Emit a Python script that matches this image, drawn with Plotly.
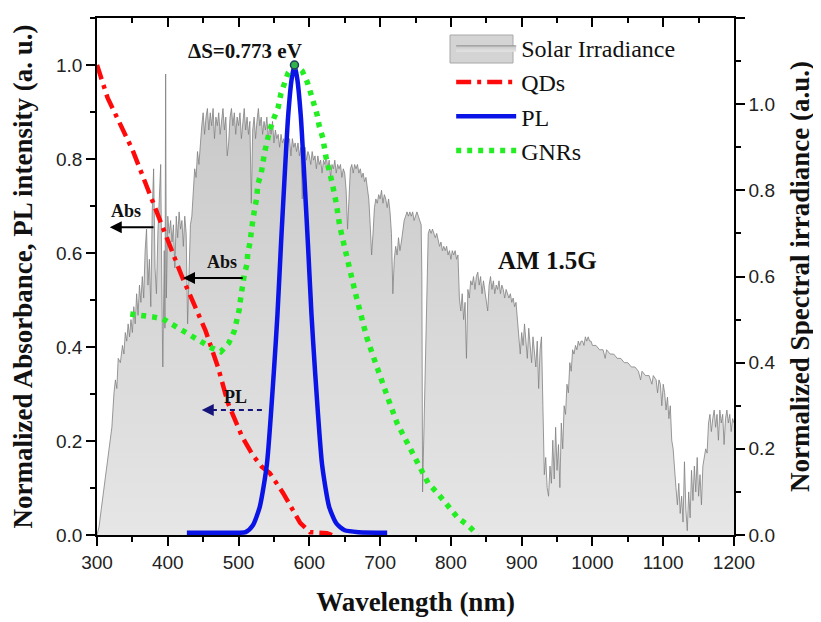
import numpy as np
import plotly.graph_objects as go

# ---------------- data ----------------
SOLAR_WL = [300, 303, 306, 310, 314, 318, 321, 324, 326, 328, 330, 333, 336, 338, 340, 342, 344, 346, 348, 350,
            352, 354, 356, 358, 360, 362, 364, 366, 368, 370, 372, 374, 376, 378, 380, 382, 384, 386, 388, 390,
            392, 393, 395, 396, 397, 398, 400, 402, 404, 406, 408, 410, 412, 414, 416, 418, 420, 422, 424, 426,
            428, 430, 432, 434, 436, 438, 440, 442, 444, 446, 448, 450, 452, 454, 456, 458, 460, 462, 464, 466,
            468, 470, 472, 474, 476, 478, 480, 482, 484, 486, 488, 490, 492, 494, 496, 498, 500, 502, 504, 506,
            508, 510, 512, 514, 516, 518, 520, 522, 524, 526, 528, 530, 532, 534, 536, 538, 540, 542, 544, 546,
            548, 550, 552, 554, 556, 558, 560, 562, 564, 566, 568, 570, 572, 574, 576, 578, 580, 582, 584, 586,
            588, 590, 592, 594, 596, 598, 600, 602, 604, 606, 608, 610, 612, 614, 616, 618, 620, 622, 624, 626,
            628, 630, 632, 634, 636, 638, 640, 642, 644, 646, 648, 650, 652, 654, 656, 658, 660, 662, 664, 666,
            668, 670, 672, 674, 676, 678, 680, 682, 684, 686, 688, 690, 692, 694, 696, 698, 700, 702, 704, 706,
            708, 710, 712, 714, 716, 718, 720, 722, 724, 726, 728, 730, 732, 734, 736, 738, 740, 742, 744, 746,
            748, 750, 752, 754, 756, 758, 759, 760, 762, 764, 766, 768, 770, 772, 774, 776, 778, 780, 782, 784,
            786, 788, 790, 792, 794, 796, 798, 800, 802, 804, 806, 808, 810, 812, 814, 816, 818, 820, 822, 824,
            826, 828, 830, 832, 834, 836, 838, 840, 842, 844, 846, 848, 850, 852, 854, 856, 858, 860, 862, 864,
            866, 868, 870, 872, 874, 876, 878, 880, 882, 884, 886, 888, 890, 892, 894, 896, 898, 900, 902, 904,
            906, 908, 910, 912, 914, 916, 918, 920, 922, 924, 926, 928, 930, 932, 934, 936, 938, 940, 942, 944,
            946, 948, 950, 952, 954, 956, 958, 960, 962, 964, 966, 968, 970, 972, 974, 976, 978, 980, 982, 984,
            986, 988, 990, 992, 994, 996, 998, 1000, 1005, 1010, 1015, 1018, 1020, 1025, 1030, 1035, 1040, 1045,
            1050, 1055, 1060, 1065, 1068, 1070, 1075, 1080, 1084, 1086, 1090, 1092, 1094, 1096, 1098, 1100, 1102,
            1104, 1106, 1108, 1110, 1112, 1114, 1116, 1118, 1120, 1122, 1124, 1126, 1128, 1130, 1132, 1134, 1136,
            1138, 1140, 1142, 1144, 1146, 1148, 1150, 1152, 1154, 1156, 1158, 1160, 1162, 1164, 1166, 1168, 1170,
            1172, 1174, 1176, 1178, 1180, 1182, 1184, 1186, 1188, 1190, 1192, 1194, 1196, 1198, 1200]
SOLAR_IRR = [0.0, 0.02, 0.06, 0.11, 0.17, 0.21, 0.25, 0.33, 0.36, 0.34, 0.41, 0.40, 0.44, 0.42, 0.47, 0.45, 0.49, 0.46, 0.50, 0.47,
             0.53, 0.49, 0.56, 0.51, 0.58, 0.54, 0.60, 0.55, 0.66, 0.71, 0.58, 0.64, 0.53, 0.75, 0.85, 0.62, 0.56, 0.70, 0.80, 0.86,
             0.52, 0.39, 0.66, 0.48, 1.07, 0.55, 0.74, 0.70, 0.73, 0.68, 0.72, 0.62, 0.74, 0.69, 0.75, 0.71, 0.73, 0.67, 0.74, 0.70,
             0.49, 0.60, 0.72, 0.74, 0.80, 0.85, 0.83, 0.89, 0.86, 0.92, 0.95, 0.98, 0.93, 0.97, 0.99, 0.94, 0.98, 0.95, 0.99, 0.92,
             0.97, 0.95, 0.98, 0.93, 0.96, 0.99, 0.94, 0.97, 0.88, 0.91, 0.97, 0.99, 0.95, 0.98, 0.93, 0.97, 0.95, 0.98, 0.92, 0.96,
             0.99, 0.94, 0.97, 0.93, 0.96, 0.77, 0.94, 0.97, 0.92, 0.96, 0.99, 0.95, 0.97, 0.93, 0.96, 0.94, 0.97, 0.92, 0.95, 0.93,
             0.96, 0.91, 0.94, 0.92, 0.93, 0.90, 0.93, 0.91, 0.92, 0.89, 0.93, 0.91, 0.92, 0.88, 0.92, 0.90, 0.91, 0.89, 0.91, 0.88,
             0.90, 0.78, 0.88, 0.90, 0.87, 0.89, 0.88, 0.86, 0.89, 0.87, 0.88, 0.85, 0.88, 0.86, 0.87, 0.84, 0.87, 0.86, 0.88, 0.85,
             0.87, 0.83, 0.86, 0.85, 0.87, 0.84, 0.86, 0.85, 0.86, 0.83, 0.85, 0.84, 0.80, 0.71, 0.78, 0.85, 0.86, 0.84, 0.86, 0.85,
             0.86, 0.84, 0.85, 0.83, 0.84, 0.82, 0.83, 0.80, 0.78, 0.72, 0.65, 0.70, 0.76, 0.78, 0.77, 0.79, 0.78, 0.80, 0.77, 0.79,
             0.78, 0.76, 0.78, 0.75, 0.70, 0.56, 0.64, 0.67, 0.65, 0.69, 0.66, 0.68, 0.71, 0.73, 0.74, 0.75, 0.74, 0.75, 0.74, 0.75,
             0.73, 0.74, 0.75, 0.74, 0.73, 0.72, 0.60, 0.10, 0.25, 0.40, 0.62, 0.70, 0.71, 0.70, 0.71, 0.70, 0.69, 0.70, 0.68, 0.67,
             0.68, 0.66, 0.67, 0.66, 0.67, 0.65, 0.66, 0.64, 0.66, 0.65, 0.66, 0.64, 0.65, 0.55, 0.52, 0.56, 0.50, 0.54, 0.41, 0.57,
             0.55, 0.59, 0.58, 0.60, 0.57, 0.60, 0.61, 0.58, 0.60, 0.56, 0.59, 0.57, 0.55, 0.52, 0.58, 0.60, 0.57, 0.59, 0.56, 0.58,
             0.57, 0.59, 0.56, 0.58, 0.57, 0.55, 0.57, 0.56, 0.55, 0.56, 0.54, 0.55, 0.53, 0.54, 0.50, 0.46, 0.42, 0.47, 0.44, 0.49,
             0.45, 0.41, 0.48, 0.44, 0.40, 0.46, 0.43, 0.39, 0.45, 0.34, 0.43, 0.46, 0.30, 0.14, 0.18, 0.11, 0.09, 0.16, 0.12, 0.22,
             0.13, 0.25, 0.15, 0.21, 0.11, 0.26, 0.20, 0.30, 0.28, 0.35, 0.33, 0.40, 0.38, 0.43, 0.42, 0.44, 0.43, 0.45, 0.44, 0.45,
             0.45, 0.44, 0.46, 0.45, 0.46, 0.45, 0.45, 0.44, 0.44, 0.43, 0.43, 0.41, 0.43, 0.42, 0.42, 0.41, 0.41, 0.40,
             0.40, 0.39, 0.39, 0.38, 0.36, 0.38, 0.37, 0.37, 0.35, 0.37, 0.36, 0.33, 0.36, 0.35, 0.30, 0.35, 0.33,
             0.29, 0.32, 0.27, 0.30, 0.22, 0.20, 0.14, 0.11, 0.07, 0.12, 0.05, 0.09, 0.03, 0.17, 0.06, 0.01, 0.10,
             0.04, 0.15, 0.08, 0.16, 0.10, 0.18, 0.09, 0.14, 0.07, 0.16, 0.18, 0.20, 0.19, 0.26, 0.28, 0.24, 0.27,
             0.29, 0.25, 0.28, 0.22, 0.29, 0.26, 0.28, 0.21, 0.27, 0.29, 0.26, 0.28, 0.24, 0.27, 0.26]

QD_WL = [300, 315, 350, 392, 420, 453, 471, 485, 505, 520, 533, 544, 563, 587, 601, 625, 632]
QD_ABS = [1.0, 0.93, 0.82, 0.655, 0.55, 0.436, 0.357, 0.281, 0.209, 0.17, 0.145, 0.132, 0.089, 0.026, 0.006, 0.004, 0.0]

PL_WL = [427, 480, 510, 520, 530, 540, 550, 555, 560, 565, 570, 575, 579, 583, 588, 593, 598, 603, 608,
         618, 628, 638, 650, 670, 710]
PL_INT = [0.005, 0.005, 0.006, 0.02, 0.06, 0.15, 0.35, 0.47, 0.62, 0.76, 0.89, 0.97, 1.0, 0.97, 0.89, 0.76,
          0.62, 0.47, 0.35, 0.15, 0.06, 0.025, 0.01, 0.006, 0.005]

GNR_WL = [347, 365, 379, 393, 407, 420, 434, 448, 462, 475, 486, 494, 498, 501, 503, 505, 508, 512, 513,
          516, 519, 520, 523, 526, 527, 532, 537, 544, 550, 556, 560, 565, 570, 577, 583, 590, 597, 602, 607,
          611, 614, 619, 624, 628, 632, 638, 643, 650, 657, 665, 673, 681, 691, 703, 713, 724, 738, 753, 768,
          780, 799, 810, 824, 838]
GNR_ABS = [0.470, 0.468, 0.464, 0.46, 0.447, 0.434, 0.421, 0.408, 0.398, 0.39, 0.408, 0.434, 0.457, 0.48,
           0.504, 0.528, 0.553, 0.577, 0.6, 0.621, 0.645, 0.668, 0.696, 0.72, 0.745, 0.77, 0.815, 0.862, 0.887,
           0.91, 0.94, 0.965, 0.983, 0.996, 0.997, 0.987, 0.964, 0.94, 0.919, 0.894, 0.87, 0.845, 0.8, 0.777,
           0.751, 0.706, 0.657, 0.611, 0.562, 0.515, 0.468, 0.421, 0.377, 0.33, 0.283, 0.238, 0.196, 0.153,
           0.11, 0.091, 0.055, 0.036, 0.021, 0.0]

X_TICKS = [300, 400, 500, 600, 700, 800, 900, 1000, 1100, 1200]

SERIF = "Liberation Serif"
SANS = "Liberation Sans"

fig = go.Figure()

fig.add_trace(go.Scatter(
    x=SOLAR_WL, y=SOLAR_IRR, name="Solar Irradiance", yaxis="y", mode="lines",
    line=dict(color="#808080", width=0.8), fill="tozeroy",
    fillgradient=dict(type="vertical", start=0, stop=1.1,
                      colorscale=[[0, "#e6e6e6"], [1, "#c6c6c6"]]),
))
fig.add_trace(go.Scatter(
    x=QD_WL, y=QD_ABS, name="QDs", yaxis="y2", mode="lines",
    line=dict(color="#ff0a0a", width=4.5, dash="15px,6px,4px,6px"),
))
fig.add_trace(go.Scatter(
    x=PL_WL, y=PL_INT, name="PL", yaxis="y2", mode="lines",
    line=dict(color="#0a14e6", width=4.5, shape="spline", smoothing=0.6),
))
fig.add_trace(go.Scatter(
    x=GNR_WL, y=GNR_ABS, name="GNRs", yaxis="y2", mode="lines",
    line=dict(color="#22ee22", width=5.5, dash="5px,6px"),
))
ipk = int(np.argmax(PL_INT))
fig.add_trace(go.Scatter(
    x=[PL_WL[ipk]], y=[PL_INT[ipk]], yaxis="y2", mode="markers", showlegend=False,
    marker=dict(size=8, color="#2fb34a", line=dict(color="#1d3d5c", width=1.5)),
))
# invisible helper trace so the top (mirror) axis with inward ticks is drawn
fig.add_trace(go.Scatter(x=[None], y=[None], xaxis="x2", yaxis="y", showlegend=False, hoverinfo="skip"))

axis_common = dict(showline=True, linecolor="black", linewidth=1.5, showgrid=False, zeroline=False,
                   tickcolor="black", tickwidth=1.5, automargin=False,
                   tickfont=dict(family=SANS, size=19, color="#222222"))
title_font = dict(family=SERIF, size=27, color="#111111")

# the page body adds an 8px offset, so the figure is 8px smaller than the window
fig.update_layout(
    width=813, height=614,
    margin=dict(l=89, r=87, t=10, b=87),
    paper_bgcolor="white", plot_bgcolor="white",
    showlegend=True,
    legend=dict(x=0.556, y=0.985, xanchor="left", yanchor="top",
                font=dict(family=SERIF, size=24, color="#111111"),
                bgcolor="rgba(0,0,0,0)", itemwidth=60, tracegroupgap=0),
    xaxis=dict(range=[300, 1200], tickvals=X_TICKS, ticks="outside", ticklen=9,
               minor=dict(dtick=50, tick0=300, ticks="outside", ticklen=5, tickwidth=1.5, tickcolor="black"),
               title=dict(text="<b>Wavelength (nm)</b>", font=title_font, standoff=21),
               **axis_common),
    xaxis2=dict(range=[300, 1200], overlaying="x", side="top", anchor="y", tickvals=X_TICKS,
                ticks="inside", ticklen=9, showticklabels=False,
                minor=dict(dtick=50, tick0=300, ticks="inside", ticklen=5, tickwidth=1.5, tickcolor="black"),
                **axis_common),
    yaxis=dict(range=[0, 1.2], side="right", dtick=0.2, tickformat=".1f", ticks="outside", ticklen=9,
               minor=dict(dtick=0.1, ticks="outside", ticklen=5, tickwidth=1.5, tickcolor="black"),
               title=dict(text="<b>Normalized Spectral irradiance (a.u.)</b>", font=title_font, standoff=16),
               **axis_common),
    yaxis2=dict(range=[0, 1.1], side="left", overlaying="y", anchor="x", dtick=0.2, tickformat=".1f",
                ticks="outside", ticklen=9,
                minor=dict(dtick=0.1, ticks="outside", ticklen=5, tickwidth=1.5, tickcolor="black"),
                title=dict(text="<b>Normalized Absorbance, PL intensity (a. u.)</b>", font=title_font,
                           standoff=18),
                **axis_common),
)

# larger gray swatch behind the "Solar Irradiance" legend entry (legend draws fills as thin bars)
fig.add_shape(type="rect", xref="paper", yref="paper", x0=(450 - 97) / 637, x1=(513 - 97) / 637,
              y0=(535 - 63) / 517, y1=(535 - 35) / 517, fillcolor="#d4d4d4",
              line=dict(color="#a8a8a8", width=1), layer="above")

bold = dict(family=SERIF, color="#111111")
fig.add_annotation(x=509, y=1.03, xref="x", yref="y2", text="<b>ΔS=0.773 eV</b>", showarrow=False,
                   font=dict(size=21, **bold))
fig.add_annotation(x=937, y=0.585, xref="x", yref="y2", text="<b>AM 1.5G</b>", showarrow=False,
                   font=dict(size=25, **bold))
fig.add_annotation(x=341, y=0.69, xref="x", yref="y2", text="<b>Abs</b>", showarrow=False,
                   font=dict(size=18, **bold))
fig.add_annotation(x=318, y=0.655, ax=382, ay=0.655, xref="x", yref="y2", axref="x", ayref="y2",
                   text="", showarrow=True, arrowhead=2, arrowsize=1.2, arrowwidth=2, arrowcolor="black")
fig.add_annotation(x=476.6, y=0.581, xref="x", yref="y2", text="<b>Abs</b>", showarrow=False,
                   font=dict(size=18, **bold))
fig.add_annotation(x=421.5, y=0.547, ax=508, ay=0.547, xref="x", yref="y2", axref="x", ayref="y2",
                   text="", showarrow=True, arrowhead=2, arrowsize=1.2, arrowwidth=2, arrowcolor="black")
fig.add_annotation(x=495, y=0.294, xref="x", yref="y2", text="<b>PL</b>", showarrow=False,
                   font=dict(size=18, **bold))
fig.add_shape(type="line", x0=533, x1=462, y0=0.266, y1=0.266, xref="x", yref="y2",
              line=dict(color="#14147a", width=2, dash="5px,4px"))
fig.add_annotation(x=448, y=0.266, ax=466, ay=0.266, xref="x", yref="y2", axref="x", ayref="y2",
                   text="", showarrow=True, arrowhead=2, arrowsize=1.2, arrowwidth=2, arrowcolor="#14147a")

fig.write_html("out.html")
